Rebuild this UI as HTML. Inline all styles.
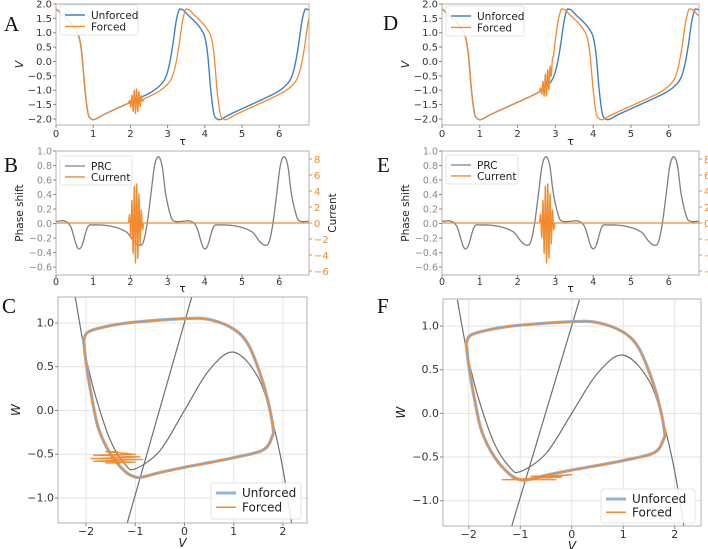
<!DOCTYPE html>
<html><head><meta charset="utf-8"><style>
html,body{margin:0;padding:0;background:#fff}
svg{display:block;font-family:"DejaVu Sans","Liberation Sans",sans-serif}
.lt{font-family:"Liberation Serif",serif;font-size:21px;fill:#111}
</style></head><body>
<svg id="fig" width="708" height="549" viewBox="0 0 708 549" xmlns="http://www.w3.org/2000/svg">
<text class="lt" x="4" y="31">A</text>
<text class="lt" x="4" y="172">B</text>
<text class="lt" x="2" y="313">C</text>
<text class="lt" x="383" y="30">D</text>
<text class="lt" x="377" y="172">E</text>
<text class="lt" x="377" y="313">F</text>
</svg>
<script>
// ---- data ----
const cycleT=[0,0.05,0.2,0.4,0.55,0.65,0.72,0.8,0.88,0.95,1.05,1.3,1.8,2.3,2.6,2.8,2.95,3.05,3.15,3.25,3.33,3.38];
const cycleV=[1.82,1.8,1.6,1.35,1.1,0.8,0.2,-1.0,-1.8,-1.98,-2.02,-1.85,-1.55,-1.25,-1.05,-0.85,-0.6,-0.2,0.5,1.4,1.8,1.82];
const period=3.38;
const prcT=[0,0.25,0.4,0.55,0.62,0.7,0.85,1.0,1.5,1.9,2.1,2.25,2.35,2.45,2.55,2.65,2.75,2.85,2.95,3.1,3.2,3.38];
const prcV=[0.03,0.03,-0.05,-0.3,-0.35,-0.3,-0.05,-0.02,-0.04,-0.12,-0.25,-0.3,-0.25,0.0,0.4,0.8,0.92,0.8,0.4,0.08,0.03,0.03];
const currentVals=[0,1.0,-1.8,2.8,-3.8,4.6,-5.0,4.9,-4.4,3.6,-2.6,1.6,-0.8,0];
const currentStartLeft=1.95, currentStartRight=2.58, currentStep=0.031;
const phaseShiftLeft=0.17, phaseShiftRight=-0.16;
const cycleVv=[-2.05,-1.95,-1.5,-1,0,0.5,1.0,1.3,1.55,1.7,1.8,1.78,1.6,1.0,0,-0.5,-0.85,-1.0,-1.2,-1.5,-1.75,-1.9,-2.0,-2.05];
const cycleW=[0.8,0.9,0.97,1.01,1.05,1.04,0.93,0.75,0.4,0.1,-0.2,-0.3,-0.45,-0.54,-0.65,-0.71,-0.76,-0.76,-0.7,-0.5,-0.2,0.2,0.55,0.8];
const cubicV=[-2.22,-2.1,-2.0,-1.8,-1.5,-1.2,-1.0,-0.5,0,0.5,1,1.5,1.8,2.0,2.18];
const cubicW=[1.3,0.9,0.6,0.15,-0.35,-0.62,-0.667,-0.46,0,0.46,0.667,0.375,-0.15,-0.667,-1.3];
const linV=[-1.17,0.15], linW=[-1.3,1.3];
const zigLeftV=[-1.35,-1.6,-1.0,-1.85,-0.9,-1.9,-0.85,-1.85,-1.0,-1.6,-1.3];
const zigLeftW=[-0.47,-0.47,-0.5,-0.51,-0.53,-0.55,-0.56,-0.58,-0.59,-0.6,-0.6];
const zigRightV=[-0.8,-0.1,-0.7,0.0,-0.5,-0.2,-1.35,-0.3,-1.0];
const zigRightW=[-0.72,-0.71,-0.73,-0.7,-0.74,-0.73,-0.76,-0.76,-0.76];
const tauTicks=[0,1,2,3,4,5,6];
const vTicks=[2.0,1.5,1.0,0.5,0.0,-0.5,-1.0,-1.5,-2.0];
const prcTicks=[1.0,0.8,0.6,0.4,0.2,0.0,-0.2,-0.4,-0.6];
const curTicks=[8,6,4,2,0,-2,-4,-6];
const ppXTicks=[-2,-1,0,1,2];
const ppYTicks=[1.0,0.5,0.0,-0.5,-1.0];

const NS='http://www.w3.org/2000/svg', svg=document.getElementById('fig');
const BLUE='#3f7fc4', ORANGE='#f28a2e', GRAY='#7f7f7f', LBLUE='#8fb5de';
function mk(tag,at,parent){const e=document.createElementNS(NS,tag);for(const k in at)e.setAttribute(k,at[k]);(parent||svg).appendChild(e);return e;}
function fmt(v,d){let s=v.toFixed(d);return s.replace('-','\u2212');}
function herm(xs,ys,x){let n=xs.length;if(x<=xs[0])return ys[0];if(x>=xs[n-1])return ys[n-1];
 let i=0;while(xs[i+1]<x)i++;const x0=xs[i],x1=xs[i+1],h=x1-x0,t=(x-x0)/h;
 const m=j=>{if(j<=0)return (ys[1]-ys[0])/(xs[1]-xs[0]);if(j>=n-1)return (ys[n-1]-ys[n-2])/(xs[n-1]-xs[n-2]);return (ys[j+1]-ys[j-1])/(xs[j+1]-xs[j-1]);};
 const t2=t*t,t3=t2*t;return (2*t3-3*t2+1)*ys[i]+(t3-2*t2+t)*h*m(i)+(-2*t3+3*t2)*ys[i+1]+(t3-t2)*h*m(i+1);}
function unforced(t){let u=((t+0.02)%period+period)%period;return herm(cycleT,cycleV,u);}
function prc(t){let u=((t)%period+period)%period;return herm(prcT,prcV,u);}
function curTimes(start){return currentVals.map((_,i)=>start+i*currentStep);}
function current(t,start){const ts=curTimes(start);if(t<ts[0]||t>ts[ts.length-1])return 0;return herm(ts,currentVals,t);}
function forced(t,start,shift){const end=start+currentStep*(currentVals.length-1);let s=t<start?0:(t>end?shift:shift*(t-start)/(end-start));return unforced(t-s)+0.085*current(t,start);}
function catmull(pts){let d='M'+pts[0][0].toFixed(2)+','+pts[0][1].toFixed(2);for(let i=0;i<pts.length-1;i++){const p0=pts[Math.max(0,i-1)],p1=pts[i],p2=pts[i+1],p3=pts[Math.min(pts.length-1,i+2)];
 d+='C'+(p1[0]+(p2[0]-p0[0])/6).toFixed(2)+','+(p1[1]+(p2[1]-p0[1])/6).toFixed(2)+' '+(p2[0]-(p3[0]-p1[0])/6).toFixed(2)+','+(p2[1]-(p3[1]-p1[1])/6).toFixed(2)+' '+p2[0].toFixed(2)+','+p2[1].toFixed(2);}return d;}

function axes(o){
 const g=mk('g',{});
 const sx=v=>o.x0+(v-o.xd[0])/(o.xd[1]-o.xd[0])*(o.x1-o.x0);
 const sy=v=>o.y1-(v-o.yd[0])/(o.yd[1]-o.yd[0])*(o.y1-o.y0);
 const cid='clip-'+o.name;const cp=mk('clipPath',{id:cid},g);mk('rect',{x:o.x0,y:o.y0,width:o.x1-o.x0,height:o.y1-o.y0},cp);
 if(o.grid){o.xt.forEach(v=>{const l=mk('line',{x1:sx(v),x2:sx(v),y1:o.y0,y2:o.y1,stroke:'#e3e3e3','stroke-width':1},g);});
  o.yt.forEach(v=>{const l=mk('line',{x1:o.x0,x2:o.x1,y1:sy(v),y2:sy(v),stroke:'#e3e3e3','stroke-width':1},g);});}
 const plot=mk('g',{'clip-path':'url(#'+cid+')'},g);
 const fr=mk('rect',{x:o.x0,y:o.y0,width:o.x1-o.x0,height:o.y1-o.y0,fill:'none',stroke:'#a8a8a8','stroke-width':0.9},g);
 
 const xo=o.xtOff||12;
 o.xt.forEach(v=>{mk('line',{x1:sx(v),x2:sx(v),y1:o.y1,y2:o.y1+3,stroke:'#888'},g);
  const t=mk('text',{x:sx(v),y:o.y1+xo,'font-size':o.fs,'text-anchor':'middle',fill:'#333'},g);t.textContent=fmt(v,o.xdp);
  });
 o.yt.forEach(v=>{mk('line',{x1:o.x0-3,x2:o.x0,y1:sy(v),y2:sy(v),stroke:'#888'},g);
  const t=mk('text',{x:o.x0-4,y:sy(v)+3.5,'font-size':o.fs,'text-anchor':'end',fill:o.ycol||'#333'},g);t.textContent=fmt(v,o.ydp);
  });
 const xl=mk('text',{x:(o.x0+o.x1)/2,y:o.y1+(o.xlOff||21),'font-size':o.fs+1,'text-anchor':'middle','font-style':o.xit?'italic':'normal',fill:'#222'},g);xl.textContent=o.xl;
 
 const yc=(o.y0+o.y1)/2;const yl=mk('text',{x:o.ylx,y:yc,'font-size':o.fs+1,'text-anchor':'middle',fill:'#222',transform:'rotate(-90 '+o.ylx+' '+yc+')','font-style':o.yit?'italic':'normal'},g);yl.textContent=o.yl;
 
 return {g,plot,sx,sy};
}
function path(parent,d,col,w,name){const p=mk('path',{d,fill:'none',stroke:col,'stroke-width':w,'stroke-linejoin':'round'},parent);return p;}
function sampled(ax,f,a,b,dt){let d='';for(let t=a;t<=b+1e-9;t+=dt){d+=(d?'L':'M')+ax.sx(t).toFixed(2)+','+ax.sy(f(t)).toFixed(2);}return d;}
function legend(x,y,w,h,items,name){const g=mk('g',{});
 mk('rect',{x,y,width:w,height:h,rx:2,fill:'#fff','fill-opacity':0.85,stroke:'#ddd','stroke-width':0.8},g);
 items.forEach((it,i)=>{const yy=y+9+i*(h-6)/items.length*0.95+1;const e=mk('g',{},g);
  mk('line',{x1:x+5,x2:x+25,y1:yy,y2:yy,stroke:it[1],'stroke-width':it[2]},e);
  const t=mk('text',{x:x+31,y:yy+4,'font-size':it[3]||10.5,fill:'#222'},e);t.textContent=it[0];});}

function timePanel(x0,x1,start,shift,side){
 const ax=axes({name:'voltage-panel-'+side,x0,x1,y0:4,y1:125,xd:[0,6.8],yd:[-2.21,2.0],xt:tauTicks,yt:vTicks,xdp:0,ydp:1,fs:10,xl:'\u03c4',xlOff:20,yl:'V',ylx:x0-33,yit:true});
 path(ax.plot,sampled(ax,unforced,0,6.8,0.005),BLUE,1.4,'unforced-voltage-line');
 path(ax.plot,sampled(ax,t=>forced(t,start,shift),0,6.8,0.002),ORANGE,1.3,'forced-voltage-line');
 return ax;}
function prcPanel(x0,x1,start,side){
 const ax=axes({name:'prc-panel-'+side,x0,x1,y0:151,y1:275,xd:[0,6.8],yd:[-0.71,1.0],xt:tauTicks,yt:prcTicks,xdp:0,ydp:1,fs:9.5,xl:'\u03c4',xtOff:10,xlOff:17,yl:'Phase shift',ylx:x0-33,ycol:'#8a8a8a'});
 const sy2=v=>151+(9-v)*8;
 curTicks.forEach(v=>{mk('line',{x1:x1,x2:x1+3,y1:sy2(v),y2:sy2(v),stroke:ORANGE},ax.g);const t=mk('text',{x:x1+5,y:sy2(v)+4,'font-size':10,fill:ORANGE},ax.g);t.textContent=fmt(v,0);
  });
 const yc=213,xx=x1+27;const yl=mk('text',{x:xx,y:yc,'font-size':10.5,'text-anchor':'middle',fill:'#222',transform:'rotate(-90 '+xx+' '+yc+')'},ax.g);yl.textContent='Current';
 
 path(ax.plot,sampled(ax,prc,0,6.8,0.01),GRAY,1.3,'prc-line');
 let d='';for(let t=0;t<=6.8;t+=0.002){d+=(d?'L':'M')+ax.sx(t).toFixed(2)+','+sy2(current(t,start)).toFixed(2);}
 path(ax.plot,d,ORANGE,1.3,'current-line');
 return ax;}
function phasePanel(x0,x1,y0,y1,xd,yd,zv,zw,side){
 const ax=axes({name:'phase-plane-'+side,x0,x1,y0,y1,xd,yd,xt:ppXTicks,yt:ppYTicks,xdp:0,ydp:1,fs:11,xl:'V',xit:true,xlOff:24,yl:'W',yit:true,ylx:x0-38,grid:true});
 const cub=cubicV.map((v,i)=>[ax.sx(v),ax.sy(cubicW[i])]);path(ax.plot,catmull(cub),'#6f6f6f',1.2,'cubic-nullcline');
 path(ax.plot,'M'+ax.sx(linV[0])+','+ax.sy(linW[0])+'L'+ax.sx(linV[1])+','+ax.sy(linW[1]),'#6f6f6f',1.2,'linear-nullcline');
 const cyc=cycleVv.map((v,i)=>[ax.sx(v),ax.sy(cycleW[i])]);
 path(ax.plot,catmull(cyc)+'Z',LBLUE,3.2,'unforced-limit-cycle');
 path(ax.plot,catmull(cyc)+'Z',ORANGE,1.5,'forced-trajectory');
 let d='';zv.forEach((v,i)=>{d+=(i?'L':'M')+ax.sx(v).toFixed(2)+','+ax.sy(zw[i]).toFixed(2);});
 path(ax.plot,d,ORANGE,1.3,'forced-perturbation');
 return ax;}

timePanel(56,309,currentStartLeft,phaseShiftLeft,'a');
timePanel(442,699,currentStartRight,phaseShiftRight,'d');
prcPanel(56,309,currentStartLeft,'b');
prcPanel(442,699,currentStartRight,'e');
phasePanel(58,307,297,523,[-2.57,2.49],[-1.286,1.297],zigLeftV,zigLeftW,'c');
phasePanel(443,701,299,526,[-2.5,2.51],[-1.29,1.31],zigRightV,zigRightW,'f');
legend(60,5,78,30,[['Unforced',BLUE,1.4],['Forced',ORANGE,1.4]],'legend-a');
legend(446,6,78,30,[['Unforced',BLUE,1.4],['Forced',ORANGE,1.4]],'legend-d');
legend(60,156,72,29,[['PRC',GRAY,1.3],['Current',ORANGE,1.4]],'legend-b');
legend(446,155,72,29,[['PRC',GRAY,1.3],['Current',ORANGE,1.4]],'legend-e');
legend(211,483,90,36,[['Unforced',LBLUE,3,12],['Forced',ORANGE,1.5,12]],'legend-c');
legend(601,489,94,34,[['Unforced',LBLUE,3,12],['Forced',ORANGE,1.5,12]],'legend-f');
</script>
</body></html>
